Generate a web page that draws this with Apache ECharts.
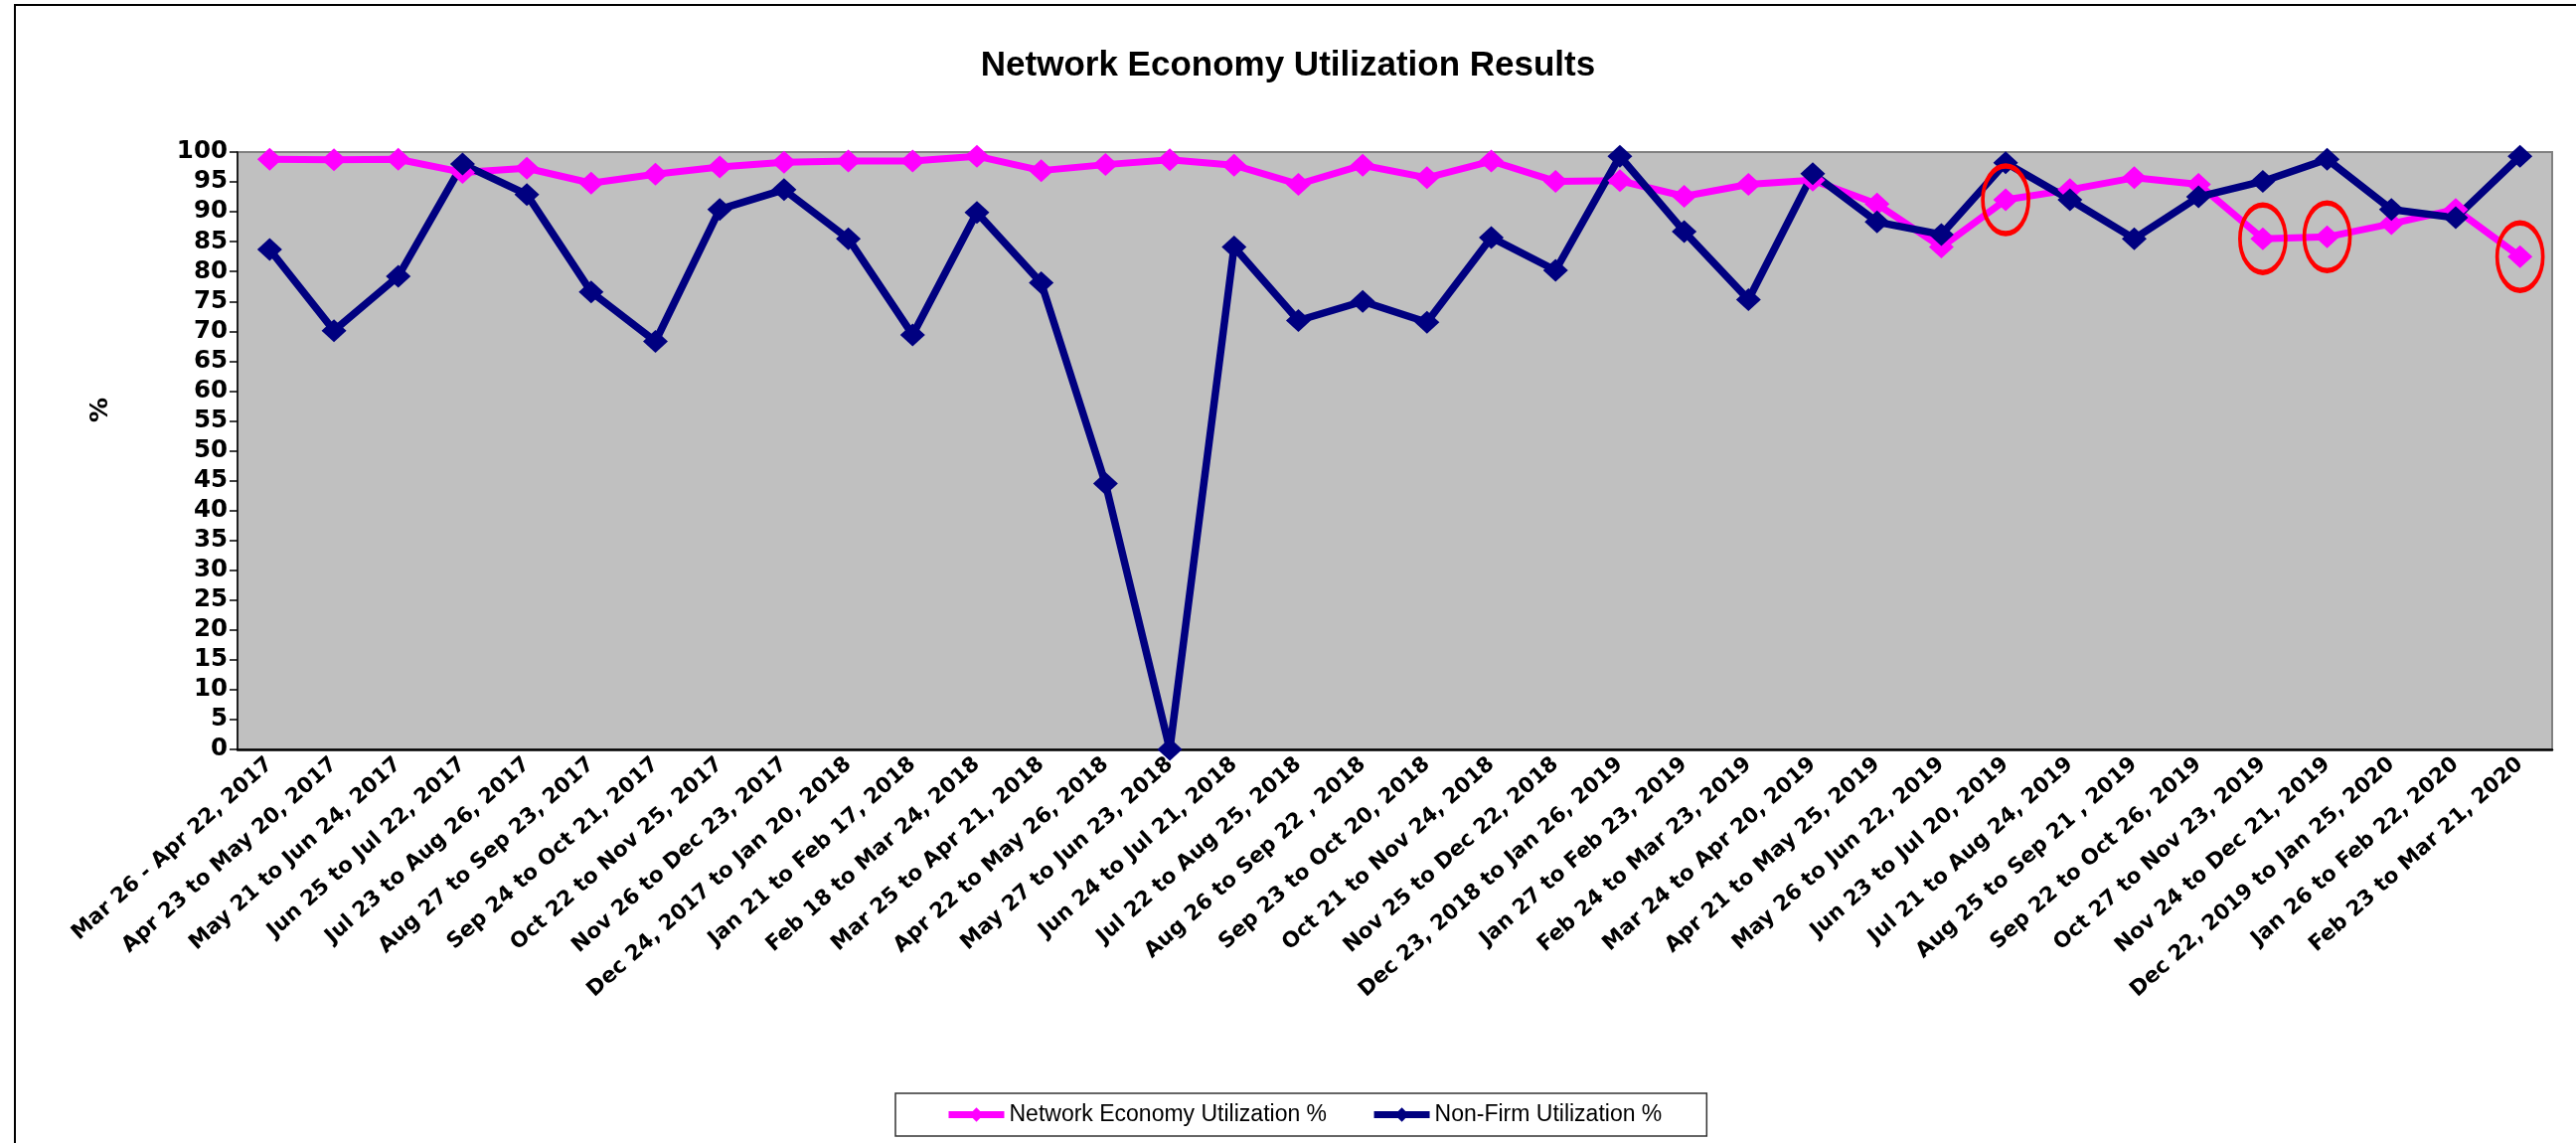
<!DOCTYPE html>
<html>

<head>
    <meta charset="utf-8">
    <title>Network Economy Utilization Results</title>
    <script src="https://cdn.jsdelivr.net/npm/echarts@6/dist/echarts.min.js"></script>
    <style>
        html, body { margin: 0; padding: 0; background: #fff; }
    </style>
</head>

<body>
    <div id="main" style="width: 2592px;height:1150px;"></div>
    <script type="text/javascript">
        // periods (x axis)
        var periods = [
            'Mar 26 - Apr 22, 2017', 'Apr 23 to May 20, 2017', 'May 21 to Jun 24, 2017',
            'Jun 25 to Jul 22, 2017', 'Jul 23 to Aug 26, 2017', 'Aug 27 to Sep 23, 2017',
            'Sep 24 to Oct 21, 2017', 'Oct 22 to Nov 25, 2017', 'Nov 26 to Dec 23, 2017',
            'Dec 24, 2017 to Jan 20, 2018', 'Jan 21 to Feb 17, 2018', 'Feb 18 to Mar 24, 2018',
            'Mar 25 to Apr 21, 2018', 'Apr 22 to May 26, 2018', 'May 27 to Jun 23, 2018',
            'Jun 24 to Jul 21, 2018', 'Jul 22 to Aug 25, 2018', 'Aug 26 to Sep 22 , 2018',
            'Sep 23 to Oct 20, 2018', 'Oct 21 to Nov 24, 2018', 'Nov 25 to Dec 22, 2018',
            'Dec 23, 2018 to Jan 26, 2019', 'Jan 27 to Feb 23, 2019', 'Feb 24 to Mar 23, 2019',
            'Mar 24 to Apr 20, 2019', 'Apr 21 to May 25, 2019', 'May 26 to Jun 22, 2019',
            'Jun 23 to Jul 20, 2019', 'Jul 21 to Aug 24, 2019', 'Aug 25 to Sep 21 , 2019',
            'Sep 22 to Oct 26, 2019', 'Oct 27 to Nov 23, 2019', 'Nov 24 to Dec 21, 2019',
            'Dec 22, 2019 to Jan 25, 2020', 'Jan 26 to Feb 22, 2020', 'Feb 23 to Mar 21, 2020'
        ];

        // Network Economy Utilization %
        var economyUtil = [
            98.8, 98.7, 98.8, 96.6, 97.3, 94.8, 96.3, 97.5, 98.3, 98.5, 98.5, 99.3,
            96.9, 97.9, 98.7, 97.8, 94.6, 97.8, 95.7, 98.5, 95.1, 95.2, 92.6, 94.6,
            95.3, 91.3, 84.1, 92.0, 93.7, 95.7, 94.6, 85.5, 85.8, 88.0, 90.4, 82.5
        ];

        // Non-Firm Utilization %
        var nonFirmUtil = [
            83.7, 70.1, 79.2, 98.0, 92.9, 76.6, 68.3, 90.4, 93.7, 85.5, 69.4, 89.9,
            78.1, 44.5, 0.0, 84.1, 71.8, 75.0, 71.5, 85.7, 80.2, 99.3, 86.7, 75.3,
            96.4, 88.3, 86.2, 98.2, 92.0, 85.5, 92.5, 95.1, 98.8, 90.4, 89.0, 99.3
        ];

        // points circled in red on the economy line
        var circled = [27, 31, 32, 35];

        var myChart = echarts.init(document.getElementById('main'));

        var boldFont = 'DejaVu Sans';

        myChart.setOption({
            backgroundColor: '#ffffff',
            animation: false,
            title: {
                text: 'Network Economy Utilization Results',
                left: 'center',
                top: 44,
                textStyle: {
                    fontFamily: 'Liberation Sans, Arial',
                    fontWeight: 'bold',
                    fontSize: 35,
                    color: '#000'
                }
            },
            legend: {
                left: 901,
                top: 1100,
                itemWidth: 56,
                itemHeight: 18,
                itemGap: 44,
                padding: [10, 45, 10, 50],
                borderColor: '#333',
                borderWidth: 1.5,
                lineStyle: { width: 7 },
                textStyle: {
                    fontFamily: 'Liberation Sans, Arial',
                    fontSize: 23,
                    color: '#000'
                },
                data: ['Network Economy Utilization %', 'Non-Firm Utilization %']
            },
            graphic: [{
                type: 'rect',
                silent: true,
                shape: { x: 15, y: 5, width: 2620, height: 1200 },
                style: { fill: 'none', stroke: '#000', lineWidth: 2 }
            }],
            grid: {
                left: 239,
                right: 24,
                top: 153,
                bottom: 396,
                show: true,
                backgroundColor: '#C0C0C0',
                borderColor: '#808080',
                borderWidth: 2,
                outerBoundsMode: 'none'
            },
            xAxis: {
                type: 'category',
                data: periods,
                axisLine: {
                    lineStyle: { color: '#000', width: 2.5 }
                },
                axisTick: {
                    length: 8,
                    lineStyle: { color: '#000', width: 1.5 }
                },
                axisLabel: {
                    interval: 0,
                    rotate: 42,
                    margin: 12,
                    fontFamily: boldFont,
                    fontWeight: 'bold',
                    fontSize: 21.5,
                    color: '#000'
                },
                splitLine: { show: false }
            },
            yAxis: {
                type: 'value',
                min: 0,
                max: 100,
                interval: 5,
                name: '%',
                nameLocation: 'middle',
                nameGap: 125,
                nameTextStyle: {
                    fontFamily: boldFont,
                    fontWeight: 'bold',
                    fontSize: 25,
                    color: '#000',
                    padding: [0, 0, 0, 82]
                },
                axisLine: {
                    show: true,
                    lineStyle: { color: '#000', width: 1.5 }
                },
                axisTick: {
                    show: true,
                    length: 8,
                    lineStyle: { color: '#000', width: 1.5 }
                },
                axisLabel: {
                    margin: 10,
                    fontFamily: boldFont,
                    fontWeight: 'bold',
                    fontSize: 24.5,
                    color: '#000'
                },
                splitLine: { show: false }
            },
            series: [{
                    name: 'Network Economy Utilization %',
                    type: 'line',
                    data: economyUtil,
                    symbol: 'diamond',
                    symbolSize: [25, 23],
                    color: '#FF00FF',
                    lineStyle: { width: 7, color: '#FF00FF' },
                    itemStyle: { color: '#FF00FF' },
                    markPoint: {
                        symbol: 'circle',
                        symbolSize: [46, 68],
                        silent: true,
                        label: { show: false },
                        itemStyle: {
                            color: 'rgba(0,0,0,0)',
                            borderColor: '#FF0000',
                            borderWidth: 4.5
                        },
                        data: circled.map(function (i) {
                            return { coord: [periods[i], economyUtil[i]] };
                        })
                    }
                },
                {
                    name: 'Non-Firm Utilization %',
                    type: 'line',
                    data: nonFirmUtil,
                    symbol: 'diamond',
                    symbolSize: [25, 23],
                    color: '#000080',
                    lineStyle: { width: 7.5, color: '#000080' },
                    itemStyle: { color: '#000080' }
                }
            ]
        });
    </script>
</body>

</html>
